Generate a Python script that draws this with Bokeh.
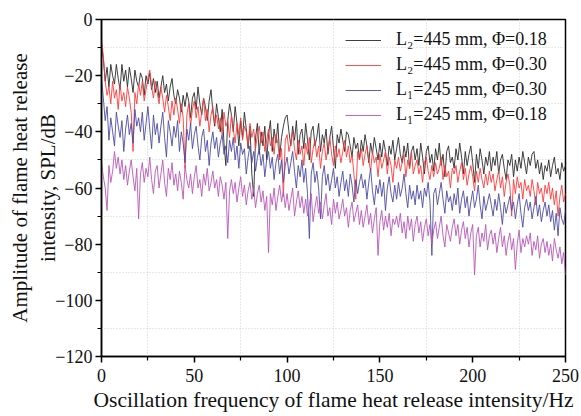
from bokeh.plotting import figure
from bokeh.models import (ColumnDataSource, FixedTicker, CustomJSTickFormatter,
                          Legend, LegendItem, Range1d)
from bokeh.embed import file_html
from bokeh.resources import INLINE

# ---------------- data (1 Hz steps) ----------------
freq = list(range(0, 251))

spl_L2_018 = [
    -9, -14, -22, -17, -24, -16, -20, -23, -16, -21,
    -25, -16, -22, -18, -24, -17, -21, -26, -18, -22,
    -24, -19, -21, -27, -20, -23, -19, -25, -21, -26,
    -22, -28, -24, -20, -26, -23, -29, -24, -21, -27,
    -30, -25, -28, -33, -27, -31, -26, -29, -35, -28,
    -26, -32, -24, -30, -34, -28, -31, -36, -29, -25,
    -33, -38, -30, -35, -40, -32, -44, -52, -36, -30,
    -34, -40, -31, -37, -45, -36, -42, -33, -39, -46,
    -38, -55, -63, -42, -37, -48, -40, -45, -38, -50,
    -41, -36, -47, -39, -44, -37, -49, -42, -38, -35,
    -34, -40, -45, -38, -43, -36, -48, -41, -39, -46,
    -37, -43, -50, -40, -38, -45, -42, -37, -47, -41,
    -44, -39, -48, -42, -38, -46, -53, -41, -44, -39,
    -43, -47, -40, -41, -45, -49, -42, -46, -44, -50,
    -43, -47, -41, -45, -51, -44, -48, -42, -46, -50,
    -44, -49, -43, -47, -52, -45, -48, -43, -50, -46,
    -42, -48, -51, -45, -49, -44, -53, -47, -45, -50,
    -46, -52, -44, -49, -55, -47, -45, -51, -48, -54,
    -46, -50, -44, -52, -48, -56, -47, -45, -51, -49,
    -53, -46, -50, -44, -49, -55, -47, -52, -48, -45,
    -51, -58, -48, -53, -46, -50, -55, -49, -52, -47,
    -54, -49, -52, -47, -55, -50, -48, -53, -57, -50,
    -52, -48, -56, -50, -54, -49, -53, -47, -51, -55,
    -49, -52, -48, -47, -53, -50, -55, -51, -57, -52,
    -54, -50, -56, -52, -49, -55, -53, -57, -51, -54,
    -52,
]

spl_L2_030 = [
    -7, -13, -22, -27, -24, -30, -22, -28, -25, -32,
    -23, -29, -26, -31, -24, -28, -33, -47, -26, -30,
    -23, -27, -22, -29, -25, -21, -18, -24, -28, -22,
    -26, -30, -24, -28, -33, -27, -31, -36, -29, -34,
    -28, -32, -37, -30, -35, -53, -34, -30, -38, -32,
    -29, -35, -31, -38, -33, -28, -36, -32, -40, -34,
    -31, -37, -34, -39, -35, -41, -33, -38, -36, -42,
    -34, -39, -44, -37, -41, -35, -43, -38, -40, -45,
    -37, -42, -39, -46, -41, -38, -44, -40, -47, -43,
    -39, -45, -42, -48, -41, -44, -50, -46, -63, -43,
    -41, -47, -44, -40, -46, -50, -43, -48, -45, -52,
    -44, -48, -42, -51, -46, -43, -49, -45, -53, -47,
    -44, -50, -46, -42, -48, -52, -45, -49, -46, -51,
    -47, -43, -49, -45, -51, -48, -55, -64, -47, -50,
    -46, -52, -48, -45, -50, -54, -47, -51, -49, -56,
    -48, -53, -50, -47, -55, -49, -52, -58, -50, -53,
    -49, -54, -51, -48, -56, -50, -53, -47, -55, -52,
    -50, -55, -52, -58, -51, -49, -54, -57, -52, -56,
    -51, -55, -53, -49, -57, -52, -56, -54, -60, -53,
    -55, -52, -58, -54, -51, -57, -53, -59, -55, -52,
    -56, -61, -54, -58, -53, -57, -60, -55, -59, -54,
    -58, -55, -61, -57, -54, -60, -56, -63, -58, -55,
    -59, -70, -57, -62, -56, -60, -58, -64, -57, -61,
    -59, -63, -57, -61, -66, -58, -62, -60, -65, -59,
    -62, -58, -64, -60, -66, -61, -70, -63, -59, -65,
    -62,
]

spl_L1_030 = [
    -21, -28, -36, -31, -43, -35, -40, -45, -33, -38,
    -42, -36, -47, -39, -34, -41, -37, -44, -32, -38,
    -35, -40, -33, -43, -37, -31, -39, -46, -34, -41,
    -37, -44, -38, -33, -42, -49, -36, -40, -45, -38,
    -42, -36, -47, -40, -44, -51, -39, -43, -37, -46,
    -41, -38, -45, -50, -42, -39, -47, -43, -52, -44,
    -40, -46, -42, -49, -44, -41, -48, -45, -51, -43,
    -47, -42, -50, -45, -53, -44, -48, -46, -55, -49,
    -45, -51, -47, -54, -49, -46, -52, -48, -56, -50,
    -47, -53, -49, -57, -51, -48, -55, -50, -58, -52,
    -49, -55, -51, -47, -54, -60, -52, -56, -50, -58,
    -53, -62, -78, -55, -51, -58, -54, -60, -71, -56,
    -52, -59, -55, -61, -57, -53, -60, -56, -63, -58,
    -54, -61, -57, -63, -55, -59, -65, -57, -62, -58,
    -55, -60, -57, -64, -58, -53, -61, -66, -59, -62,
    -57, -63, -58, -68, -60, -56, -62, -65, -59, -64,
    -58, -63, -60, -55, -62, -67, -59, -64, -61, -66,
    -59, -64, -61, -67, -60, -63, -58, -65, -84, -62,
    -60, -66, -62, -58, -64, -69, -61, -65, -63, -68,
    -62, -66, -60, -69, -64, -61, -67, -63, -70, -65,
    -61, -67, -64, -59, -66, -71, -63, -68, -65, -62,
    -66, -70, -64, -68, -62, -67, -73, -65, -69, -66,
    -63, -68, -65, -71, -66, -62, -69, -74, -67, -64,
    -68, -65, -71, -67, -63, -70, -66, -72, -68, -65,
    -70, -66, -72, -68, -75, -69, -77, -67, -71, -73,
    -68,
]

spl_L1_018 = [
    -51, -56, -60, -68, -52, -58, -54, -47, -53, -49,
    -55, -50, -57, -52, -59, -54, -50, -56, -61, -53,
    -71, -55, -51, -58, -53, -56, -49, -57, -62, -54,
    -52, -60, -55, -50, -58, -63, -53, -57, -51, -59,
    -55, -61, -54, -58, -64, -52, -57, -60, -55, -62,
    -56, -52, -60, -57, -63, -55, -59, -53, -61, -58,
    -54, -60, -57, -63, -56, -59, -64, -58, -78, -61,
    -57, -62, -58, -65, -60, -56, -63, -59, -66, -61,
    -58, -64, -60, -67, -62, -59, -65, -61, -68, -63,
    -83, -62, -66, -60, -68, -63, -59, -65, -61, -67,
    -62, -68, -64, -60, -70, -65, -61, -67, -63, -69,
    -64, -70, -66, -62, -72, -67, -63, -69, -65, -71,
    -66, -62, -70, -67, -73, -64, -69, -65, -71, -68,
    -64, -70, -67, -74, -68, -65, -72, -69, -66, -73,
    -68, -74, -70, -66, -73, -69, -76, -71, -67, -84,
    -72, -68, -75, -70, -74, -69, -77, -71, -73, -70,
    -74, -69, -76, -72, -78, -70, -75, -71, -79, -73,
    -70, -76, -72, -79, -74, -71, -77, -73, -80, -75,
    -72, -78, -74, -70, -77, -81, -73, -76, -79, -74,
    -71, -77, -73, -80, -75, -72, -78, -74, -81, -76,
    -73, -91, -77, -74, -81, -76, -79, -73, -82, -77,
    -75, -80, -76, -83, -78, -74, -81, -77, -84, -79,
    -76, -82, -78, -89, -80, -75, -83, -78, -81, -77,
    -80, -76, -84, -79, -82, -77, -85, -80, -78, -83,
    -79, -84, -80, -86, -78, -82, -85, -81, -87, -83,
    -91,
]

series_labels = ["L\u2082=445 mm, \u03a6=0.18", "L\u2082=445 mm, \u03a6=0.30",
                 "L\u2081=245 mm, \u03a6=0.30", "L\u2081=245 mm, \u03a6=0.18"]
series_colors = ["#2a2a2a", "#ff3b3b", "#4b4ba6", "#b957b9"]

x_major = [0, 50, 100, 150, 200, 250]
x_minor = [25, 75, 125, 175, 225]
y_major = [0, -20, -40, -60, -80, -100, -120]
y_minor = [-10, -30, -50, -70, -90, -110]

FONT = "Liberation Serif"

# ---------------- figure ----------------
p = figure(width=581, height=416, output_backend="svg", toolbar_location=None,
           x_range=Range1d(0, 250), y_range=Range1d(-120, 0),
           min_border_left=101, min_border_right=16,
           min_border_top=19, min_border_bottom=60)
p.background_fill_color = "white"
p.border_fill_color = "white"
p.outline_line_color = "black"
p.outline_line_width = 1.5
p.outline_line_alpha = 1.0

src = ColumnDataSource(dict(f=freq, a=spl_L2_018, b=spl_L2_030,
                            c=spl_L1_030, d=spl_L1_018))
renderers = []
for col, color in zip(["a", "b", "c", "d"], series_colors):
    r = p.line("f", col, source=src, line_color=color, line_width=0.9)
    renderers.append(r)

legend = Legend(items=[LegendItem(label=lab, renderers=[r])
                       for lab, r in zip(series_labels, renderers)],
                location="top_right")
legend.border_line_color = None
legend.background_fill_alpha = 0
legend.label_text_font = FONT
legend.label_text_font_size = "18px"
legend.label_text_color = "#111111"
legend.glyph_width = 36
legend.glyph_height = 20
legend.label_height = 20
legend.label_width = 159
legend.label_standoff = 15
legend.spacing = 4
legend.padding = 10
legend.margin = 10
p.add_layout(legend)

# axes
p.xaxis.ticker = FixedTicker(ticks=x_major, minor_ticks=x_minor)
p.yaxis.ticker = FixedTicker(ticks=y_major, minor_ticks=y_minor)
p.yaxis.formatter = CustomJSTickFormatter(
    code="return tick < 0 ? '\\u2212' + Math.abs(tick) : String(tick);")

for ax in (p.xaxis[0], p.yaxis[0]):
    ax.axis_line_width = 1.5
    ax.axis_line_color = "black"
    ax.major_tick_line_width = 1.5
    ax.minor_tick_line_width = 1.2
    ax.major_tick_in = 0
    ax.major_tick_out = 6
    ax.minor_tick_in = 0
    ax.minor_tick_out = 4
    ax.major_label_text_font = FONT
    ax.major_label_text_font_size = "18px"
    ax.major_label_text_color = "#111111"
    ax.axis_label_text_font = FONT
    ax.axis_label_text_font_style = "normal"
    ax.axis_label_text_color = "#111111"

p.xaxis.axis_label_text_font_size = "21.5px"
p.yaxis.axis_label_text_font_size = "21px"
p.xaxis.axis_label = "Oscillation frequency of flame heat release intensity/Hz"
p.yaxis.axis_label = "Amplitude of flame heat release\nintensity, SPL/dB"
p.xaxis.major_label_standoff = 6
p.xaxis.axis_label_standoff = 3
p.yaxis.major_label_standoff = 3
p.yaxis.axis_label_standoff = -8

# grid only at the minor positions, dotted
p.xgrid.ticker = FixedTicker(ticks=x_minor)
p.ygrid.ticker = FixedTicker(ticks=y_minor)
for g in (p.xgrid[0], p.ygrid[0]):
    g.grid_line_color = "#d0d0d0"
    g.grid_line_dash = "1 2"
    g.grid_line_width = 1

open("out.html", "w").write(file_html(p, INLINE))
